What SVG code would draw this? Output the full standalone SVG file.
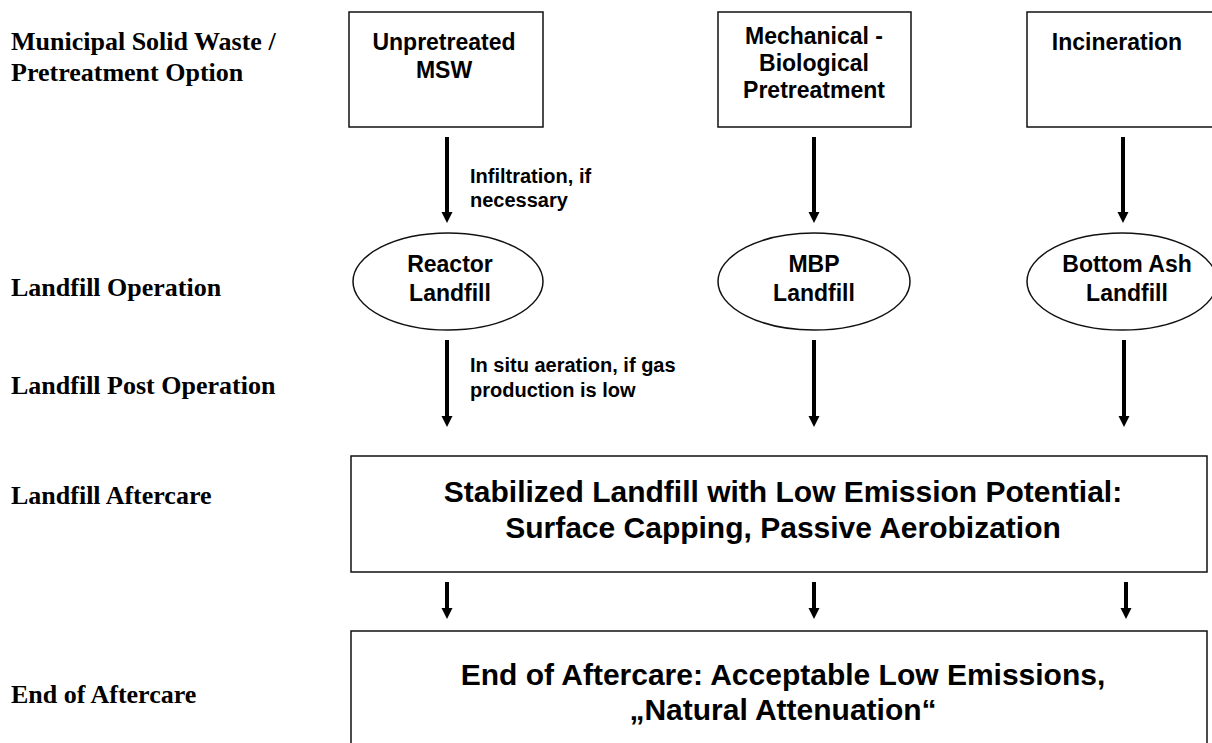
<svg xmlns="http://www.w3.org/2000/svg" width="1212" height="743" viewBox="0 0 1212 743">
<defs>
<marker id="ah" markerUnits="userSpaceOnUse" markerWidth="12" markerHeight="12" viewBox="0 -6 12 12" refX="0" refY="0" orient="auto">
<path d="M0,-5.5 L11,0 L0,5.5 z" fill="#000"/>
</marker>
<style>
.lbl{font-family:"Liberation Serif","Times New Roman",serif;font-weight:bold;font-size:26px;fill:#000}
.bx{font-family:"Liberation Sans",Arial,sans-serif;font-weight:bold;font-size:23px;fill:#000;text-anchor:middle}
.ann{font-family:"Liberation Sans",Arial,sans-serif;font-weight:bold;font-size:20px;fill:#000}
.big{font-family:"Liberation Sans",Arial,sans-serif;font-weight:bold;font-size:30px;fill:#000;text-anchor:middle}
.shape{fill:#fff;stroke:#111;stroke-width:1.5}
.arr{stroke:#000;stroke-width:4;fill:none;marker-end:url(#ah)}
</style>
</defs>
<rect width="1212" height="743" fill="#fff"/>
<g id="labels">
<text class="lbl" x="11" y="50">Municipal Solid Waste /</text>
<text class="lbl" x="11" y="81">Pretreatment Option</text>
<text class="lbl" x="11" y="296">Landfill Operation</text>
<text class="lbl" x="11" y="394">Landfill Post Operation</text>
<text class="lbl" x="11" y="504">Landfill Aftercare</text>
<text class="lbl" x="11" y="703">End of Aftercare</text>
</g>
<g id="unpretreated">
<rect class="shape" x="349" y="12" width="194" height="115"/>
<text class="bx" x="444" y="50">Unpretreated</text>
<text class="bx" x="444" y="78">MSW</text>
</g>
<g id="mbp">
<rect class="shape" x="718" y="12" width="193" height="115"/>
<text class="bx" x="814" y="44">Mechanical -</text>
<text class="bx" x="814" y="71">Biological</text>
<text class="bx" x="814" y="98">Pretreatment</text>
</g>
<g id="incineration">
<rect class="shape" x="1027" y="12" width="200" height="115"/>
<text class="bx" x="1117" y="50">Incineration</text>
</g>
<g id="reactor">
<ellipse class="shape" cx="448" cy="281.5" rx="95" ry="48.5"/>
<text class="bx" x="450" y="272">Reactor</text>
<text class="bx" x="450" y="301">Landfill</text>
</g>
<g id="mbplandfill">
<ellipse class="shape" cx="814" cy="281.5" rx="96" ry="48.5"/>
<text class="bx" x="814" y="272">MBP</text>
<text class="bx" x="814" y="301">Landfill</text>
</g>
<g id="ashlandfill">
<ellipse class="shape" cx="1122" cy="281.5" rx="95" ry="48.5"/>
<text class="bx" x="1127" y="272">Bottom Ash</text>
<text class="bx" x="1127" y="301">Landfill</text>
</g>
<g id="stabilized">
<rect class="shape" x="351" y="456" width="856" height="116"/>
<text class="big" x="783" y="502">Stabilized Landfill with Low Emission Potential:</text>
<text class="big" x="783" y="538">Surface Capping, Passive Aerobization</text>
</g>
<g id="endaftercare">
<rect class="shape" x="351" y="631" width="856" height="130"/>
<text class="big" x="783" y="685">End of Aftercare: Acceptable Low Emissions,</text>
<text class="big" x="783" y="720">„Natural Attenuation“</text>
</g>
<g id="connectors">
<line class="arr" x1="447" y1="137" x2="447" y2="212"/>
<line class="arr" x1="814" y1="137" x2="814" y2="212"/>
<line class="arr" x1="1123" y1="137" x2="1123" y2="212"/>
<line class="arr" x1="447" y1="340" x2="447" y2="416"/>
<line class="arr" x1="814" y1="340" x2="814" y2="416"/>
<line class="arr" x1="1124" y1="340" x2="1124" y2="416"/>
<line class="arr" x1="447" y1="582" x2="447" y2="608"/>
<line class="arr" x1="814" y1="582" x2="814" y2="608"/>
<line class="arr" x1="1126" y1="582" x2="1126" y2="608"/>
<text class="ann" x="470" y="183">Infiltration, if</text>
<text class="ann" x="470" y="207">necessary</text>
<text class="ann" x="470" y="372">In situ aeration, if gas</text>
<text class="ann" x="470" y="397">production is low</text>
</g>
</svg>
